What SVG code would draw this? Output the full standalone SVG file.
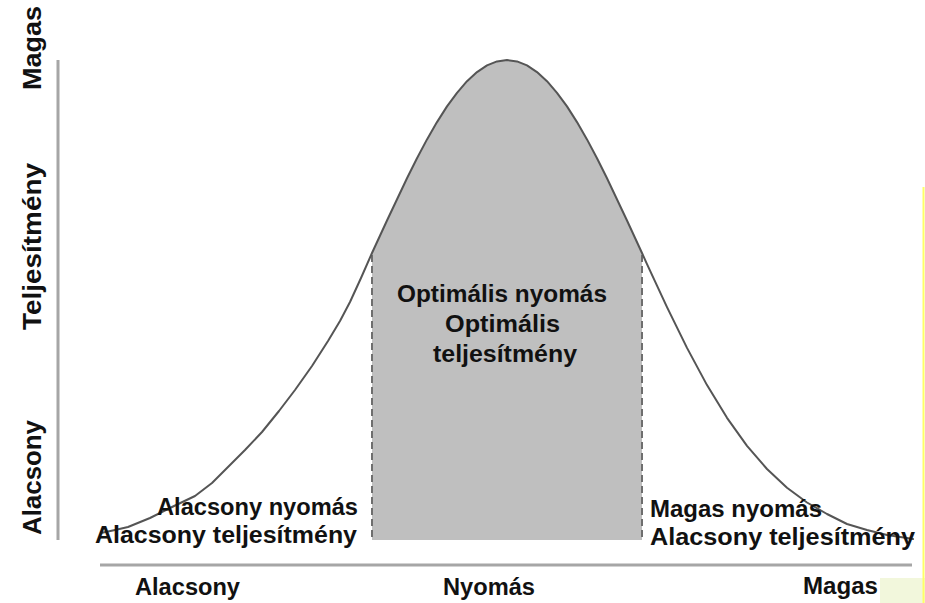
<svg xmlns="http://www.w3.org/2000/svg" width="925" height="603" viewBox="0 0 925 603">
  <defs>
    <style>
      .lbl { font-family: "Liberation Sans", Arial, sans-serif; font-weight: bold; font-size: 23px; fill: #111; }
      .vlbl { font-family: "Liberation Sans", Arial, sans-serif; font-weight: bold; font-size: 26px; fill: #111; }
      .axis { stroke: #a6a6a6; stroke-width: 3; fill: none; }
      .dash { stroke: #6e6e6e; stroke-width: 2; stroke-dasharray: 7 4; fill: none; }
      .curve { stroke: #555; stroke-width: 2; fill: none; stroke-linejoin: round; stroke-linecap: round; }
    </style>
  </defs>
  <rect x="0" y="0" width="925" height="603" fill="#ffffff"/>

  <g id="optimal-region">
    <path fill="#bfbfbf" d="M372,540 L372,253 L387,220.5 L407,178.2 L417,158.2 L427,139.4 L437,122.1 L447,106.4 L457,92.8 L467,81.2 L477,72.1 L487,65.4 L497,61.4 L507,60 L517,61.4 L527,65.4 L537,72.1 L547,81.2 L557,92.8 L567,106.4 L577,122.1 L587,139.4 L597,158.2 L607,178.2 L627,220.5 L642,253 L642,540 Z"/>
    <line class="dash" x1="372" y1="255" x2="372" y2="540"/>
    <line class="dash" x1="642" y1="255" x2="642" y2="540"/>
  </g>

  <g id="curve">
    <path class="curve" d="M101,533 L115,530 L128,527 L150,518 L172,507 L195,496 L212,483 L228,467 L245,450 L262,432 L279,411 L295,390 L312,366 L328,341 L340,321 L350,302 L361,278 L372,253 L387,220.5 L407,178.2 L417,158.2 L427,139.4 L437,122.1 L447,106.4 L457,92.8 L467,81.2 L477,72.1 L487,65.4 L497,61.4 L507,60 L517,61.4 L527,65.4 L537,72.1 L547,81.2 L557,92.8 L567,106.4 L577,122.1 L587,139.4 L597,158.2 L607,178.2 L627,220.5 L642,253 L647,264.2 L667,307.2 L687,347.9 L707,385.1 L727,417.8 L747,445.8 L767,469 L787,487.7 L807,502.5 L827,514 L847,524 L867,530 L887,535 L907,538 L913,539"/>
  </g>

  <g id="axes">
    <line class="axis" x1="58" y1="60" x2="58" y2="540"/>
    <line class="axis" x1="100" y1="565" x2="912" y2="565"/>
  </g>

  <g id="y-axis-labels">
    <text class="vlbl" transform="translate(41,90) rotate(-90)" textLength="84" lengthAdjust="spacingAndGlyphs">Magas</text>
    <text class="vlbl" transform="translate(41,330) rotate(-90)" textLength="167" lengthAdjust="spacingAndGlyphs">Teljesítmény</text>
    <text class="vlbl" transform="translate(41,535) rotate(-90)" textLength="115" lengthAdjust="spacingAndGlyphs">Alacsony</text>
  </g>

  <g id="x-axis-labels">
    <text class="lbl" x="135" y="595" textLength="105" lengthAdjust="spacingAndGlyphs">Alacsony</text>
    <text class="lbl" x="443" y="595" textLength="92" lengthAdjust="spacingAndGlyphs">Nyomás</text>
    <text class="lbl" x="803" y="594" textLength="75" lengthAdjust="spacingAndGlyphs">Magas</text>
  </g>

  <g id="low-pressure">
    <text class="lbl" x="157" y="515" textLength="201" lengthAdjust="spacingAndGlyphs">Alacsony nyomás</text>
    <text class="lbl" x="95" y="543" textLength="262" lengthAdjust="spacingAndGlyphs">Alacsony teljesítmény</text>
  </g>

  <g id="optimal-pressure">
    <text class="lbl" x="397" y="302" textLength="210" lengthAdjust="spacingAndGlyphs">Optimális nyomás</text>
    <text class="lbl" x="445" y="332" textLength="115" lengthAdjust="spacingAndGlyphs">Optimális</text>
    <text class="lbl" x="433" y="362" textLength="144" lengthAdjust="spacingAndGlyphs">teljesítmény</text>
  </g>

  <g id="high-pressure">
    <text class="lbl" x="650" y="517" textLength="172" lengthAdjust="spacingAndGlyphs">Magas nyomás</text>
    <text class="lbl" x="650" y="545" textLength="265" lengthAdjust="spacingAndGlyphs">Alacsony teljesítmény</text>
  </g>

  <g id="edge">
    <rect x="880" y="578" width="45" height="25" fill="#f2f7dc"/>
    <line x1="923.5" y1="187" x2="923.5" y2="603" stroke="#ffff66" stroke-width="2"/>
  </g>
</svg>
